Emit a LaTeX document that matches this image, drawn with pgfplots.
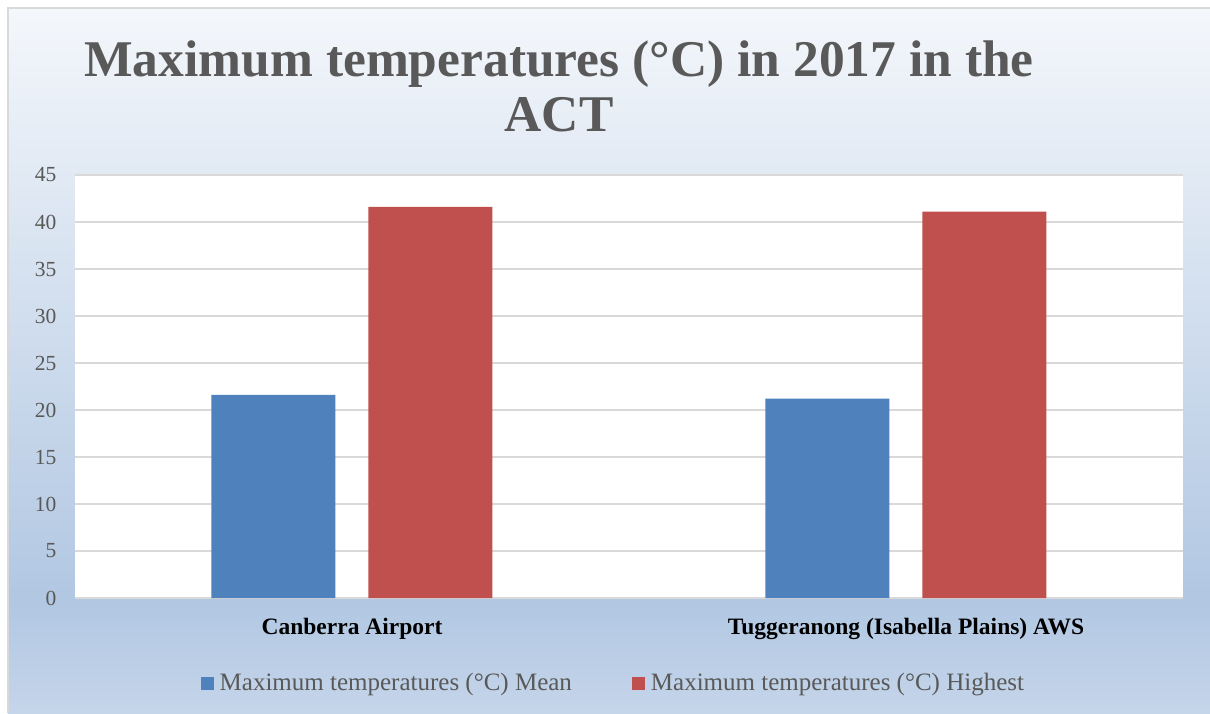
\documentclass[border=0pt]{standalone}
\usepackage{fontspec}
\setmainfont{Liberation Serif}
\usepackage{pgfplots}
\pgfplotsset{compat=1.18}
\definecolor{meanblue}{HTML}{4F81BD}
\definecolor{highred}{HTML}{C0504D}
\definecolor{txtgray}{HTML}{595959}
\definecolor{gridgray}{HTML}{D9D9D9}
\definecolor{bgtop}{HTML}{F4F7FB}
\definecolor{bgmid}{HTML}{B1C7E2}
\definecolor{bgbot}{HTML}{C5D5EA}

\begin{document}
\begin{tikzpicture}
\path[use as bounding box] (0pt,0pt) rectangle (1210pt,-713pt);
\fill[white] (0pt,0pt) rectangle (1210pt,-713pt);
% chart area background
\fill[top color=bgtop, bottom color=bgmid] (8pt,-8pt) rectangle (1210pt,-600pt);
\fill[top color=bgmid, bottom color=bgbot] (8pt,-600pt) rectangle (1210pt,-713pt);
\draw[gridgray, line width=2pt] (8pt,-713pt) -- (8pt,-8pt) -- (1210pt,-8pt);

% title
\node[anchor=base, text=txtgray, font=\fontsize{51.5}{60}\selectfont\bfseries]
  at (559pt,-76pt) {Maximum temperatures (°C) in 2017 in the};
\node[anchor=base, text=txtgray, font=\fontsize{51.5}{60}\selectfont\bfseries]
  at (559pt,-131pt) {ACT};

\begin{axis}[
  at={(75pt,-598pt)}, anchor=south west,
  scale only axis, width=1108pt, height=423pt,
  axis background/.style={fill=white},
  ybar=33pt, bar width=124pt,
  xmin=-0.5, xmax=1.5, ymin=0, ymax=45,
  xtick=data, xticklabels={Canberra Airport, Tuggeranong (Isabella Plains) AWS},
  ytick={0,5,...,45},
  axis line style={draw=none},
  major tick length=0pt,
  ymajorgrids, grid style={draw=gridgray, line width=1.6pt},
  /pgf/number format/assume math mode=true,
  yticklabel style={font=\fontsize{21.5}{26}\selectfont, text=txtgray, xshift=-15pt},
  xticklabel style={font=\fontsize{23.5}{28}\selectfont\bfseries, text=black, yshift=-17pt},
  legend columns=2,
  legend image code/.code={\fill[#1] (0pt,-6.5pt) rectangle (13pt,6.5pt);},
  legend style={at={(0.485,-0.201)}, anchor=center, draw=none, fill=none,
    font=\fontsize{25}{30}\selectfont, text=txtgray,
    nodes={inner sep=0pt}, column sep=6pt,
    /tikz/every even column/.append style={column sep=60pt}},
]
\addplot[draw=none, fill=meanblue] coordinates {(0,21.6) (1,21.2)};
\addplot[draw=none, fill=highred] coordinates {(0,41.6) (1,41.1)};
\legend{Maximum temperatures (°C) Mean, Maximum temperatures (°C) Highest}
\end{axis}
\end{tikzpicture}
\end{document}
